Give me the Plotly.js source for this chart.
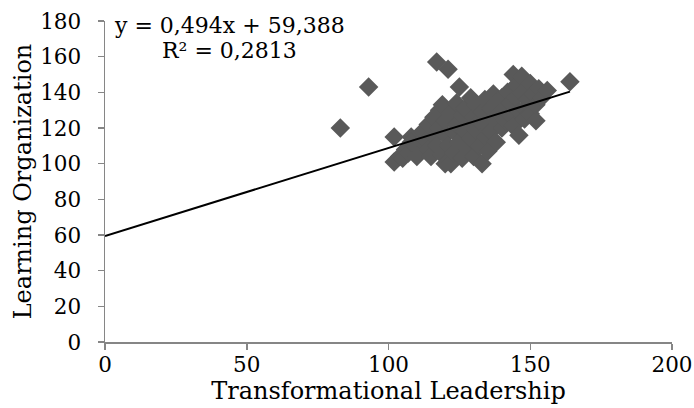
<!DOCTYPE html>
<html>
<head>
<meta charset="utf-8">
<script src="https://cdn.plot.ly/plotly-3.0.1.min.js"></script>
<style>html,body{margin:0;padding:0;background:#fff;}#chart{width:694px;height:408px;}</style>
</head>
<body>
<div id="chart"></div>
<script>
// Transformational Leadership scores (x)
const leadership = [
  83, 93,
  102, 102, 104, 105, 106, 107, 108, 108, 110, 110,
  112, 113, 114, 114, 115, 116, 116, 117, 117, 118, 118, 119, 119, 120, 120, 120,
  121, 121, 122, 122, 123, 123, 124, 124, 125, 125, 126, 126, 127, 127, 128, 128, 129, 129, 130, 130,
  131, 131, 132, 132, 133, 133, 134, 134, 135, 135, 136, 136, 137, 137, 138, 138, 139, 140, 140,
  141, 141, 142, 143, 143, 144, 144, 145, 145, 146, 146, 147, 147, 148, 148, 149, 150, 150,
  151, 152, 152, 153, 154, 156, 164
];
// Learning Organization scores (y)
const learningOrg = [
  120, 143,
  101, 115, 104, 103, 108, 106, 115, 112, 110, 104,
  118, 113, 122, 108, 104, 126, 115, 110, 157, 130, 120, 133, 105, 100, 116, 124,
  153, 110, 100, 128, 118, 106, 134, 122, 143, 112, 127, 103, 118, 131, 108, 122, 137, 114, 126, 104,
  119, 133, 110, 124, 100, 129, 115, 136, 122, 107, 131, 118, 139, 125, 112, 134, 128, 120, 137,
  131, 124, 140, 127, 134, 150, 121, 137, 144, 116, 129, 149, 140, 131, 125, 136, 145, 128,
  139, 124, 133, 142, 137, 141, 146
];
// Linear trend reported in the chart
const slope = 0.494;
const intercept = 59.388;
const equationText = "y = 0,494x + 59,388";
const r2Text = "R² = 0,2813";
const xTicks = [0, 50, 100, 150, 200];
const yTicks = [0, 20, 40, 60, 80, 100, 120, 140, 160, 180];

const xMax = Math.max(...leadership);
const trendX = [0, xMax];
const trendY = trendX.map(v => slope * v + intercept);

const fam = "DejaVu Serif, serif";
const tickFont = {family: fam, size: 21.5, color: "#000"};
const titleFont = {family: fam, size: 24, color: "#000"};
const annFont = {family: fam, size: 22, color: "#000"};

const traces = [
  {
    type: "scatter", mode: "markers", x: leadership, y: learningOrg,
    marker: {symbol: "diamond", size: 15, color: "#595959", line: {width: 0}},
    hoverinfo: "none", showlegend: false
  },
  {
    type: "scatter", mode: "lines", x: trendX, y: trendY,
    line: {color: "#000", width: 2}, hoverinfo: "none", showlegend: false
  }
];

const axisBase = {
  showgrid: false, zeroline: false, showline: true, linecolor: "#868686", linewidth: 1.5,
  ticks: "outside", ticklen: 6, tickcolor: "#868686", tickwidth: 1.5,
  tickfont: tickFont, tickmode: "array", automargin: false
};

const layout = {
  width: 694, height: 408,
  margin: {l: 105, r: 22, t: 21, b: 66},
  paper_bgcolor: "#fff", plot_bgcolor: "#fff",
  font: tickFont,
  showlegend: false,
  xaxis: Object.assign({}, axisBase, {
    range: [0, 200], tickvals: xTicks, ticktext: xTicks.map(String),
    ticklabelstandoff: -3,
    title: {text: "Transformational Leadership", font: titleFont, standoff: 5}
  }),
  yaxis: Object.assign({}, axisBase, {
    range: [0, 180], tickvals: yTicks, ticktext: yTicks.map(String),
    ticklabelstandoff: 12,
    title: {text: "Learning Organization", font: titleFont, standoff: 2}
  }),
  annotations: [
    {xref: "paper", yref: "paper", x: 0.2196, y: 0.985, xanchor: "center", yanchor: "middle",
     text: equationText, showarrow: false, font: annFont},
    {xref: "paper", yref: "paper", x: 0.2196, y: 0.907, xanchor: "center", yanchor: "middle",
     text: r2Text, showarrow: false, font: annFont}
  ]
};

Plotly.newPlot("chart", traces, layout, {staticPlot: true, displayModeBar: false});
</script>
</body>
</html>
